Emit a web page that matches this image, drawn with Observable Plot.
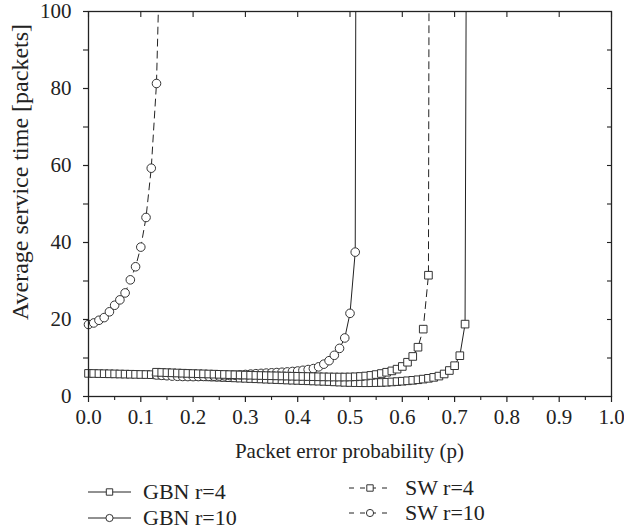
<!DOCTYPE html>
<html><head><meta charset="utf-8">
<script src="https://cdn.jsdelivr.net/npm/d3@7"></script>
<script src="https://cdn.jsdelivr.net/npm/@observablehq/plot@0.6"></script>
<style>
body{margin:0;background:#fff}
#wrap{position:relative;width:624px;height:531px;font-family:"Liberation Serif",serif;background:#fff}
#wrap svg{display:block}
</style>
</head><body><div id="wrap"></div>
<script>
// ---- data ----
const xTickLabels = [0,0.1,0.2,0.3,0.4,0.5,0.6,0.7,0.8,0.9,1.0];
const xMinorTicks = [0.05,0.15,0.25,0.35,0.45,0.55,0.65,0.75,0.85,0.95];
const yTickLabels = [0,20,40,60,80,100];
const yMinorTicks = [10,30,50,70,90];
const yAllTicks = [10,20,30,40,50,60,70,80,90];

const pGBN4 = [0,0.01,0.02,0.03,0.04,0.05,0.06,0.07,0.08,0.09,0.10,0.11,0.12,0.13,0.14,0.15,0.16,0.17,0.18,0.19,0.20,0.21,0.22,0.23,0.24,0.25,0.26,0.27,0.28,0.29,0.30,0.31,0.32,0.33,0.34,0.35,0.36,0.37,0.38,0.39,0.40,0.41,0.42,0.43,0.44,0.45,0.46,0.47,0.48,0.49,0.50,0.51,0.52,0.53,0.54,0.55,0.56,0.57,0.58,0.59,0.60,0.61,0.62,0.63,0.64,0.65,0.66,0.67,0.68,0.69,0.70,0.71,0.72];
const yGBN4 = [6.0,5.98,5.95,5.92,5.9,5.87,5.84,5.81,5.78,5.75,5.72,5.7,5.67,
  5.62,5.57,5.52,5.47,5.42,5.37,5.32,5.26,5.21,5.16,5.1,5.05,5.0,4.94,4.89,4.83,4.78,4.72,4.67,4.61,4.56,4.5,4.45,4.39,4.34,4.28,4.23,4.18,4.13,4.08,4.03,3.98,3.93,3.88,
  3.8,3.74,3.68,3.63,3.6,3.58,3.57,3.58,3.6,3.64,3.7,3.78,3.87,3.97,4.08,4.2,4.35,4.52,4.72,4.97,5.3,5.85,6.75,8.0,10.6,18.8];

const pGBN10 = [0.13,0.14,0.15,0.16,0.17,0.18,0.19,0.20,0.21,0.22,0.23,0.24,0.25,0.26,0.27,0.28,0.29,0.30,0.31,0.32,0.33,0.34,0.35,0.36,0.37,0.38,0.39,0.40,0.41,0.42,0.43,0.44,0.45,0.46,0.47,0.48,0.49,0.50,0.51];
const yGBN10 = [5.6,5.5,5.4,5.3,5.25,5.2,5.18,5.17,5.18,5.2,5.23,5.27,5.32,5.38,5.45,5.53,5.62,5.72,5.82,5.92,6.0,6.08,6.15,6.22,6.3,6.38,6.5,6.62,6.8,7.0,7.25,7.7,8.4,9.3,10.7,12.5,15.2,21.6,37.5];

const pSW4 = [0.13,0.14,0.15,0.16,0.17,0.18,0.19,0.20,0.21,0.22,0.23,0.24,0.25,0.26,0.27,0.28,0.29,0.30,0.31,0.32,0.33,0.34,0.35,0.36,0.37,0.38,0.39,0.40,0.41,0.42,0.43,0.44,0.45,0.46,0.47,0.48,0.49,0.50,0.51,0.52,0.53,0.54,0.55,0.56,0.57,0.58,0.59,0.60,0.61,0.62,0.63,0.64,0.65];
const ySW4 = [6.3,6.25,6.2,6.15,6.1,6.05,6.0,5.96,5.92,5.88,5.84,5.8,5.76,5.72,5.68,5.64,5.6,5.56,5.52,5.48,5.45,5.42,5.39,5.36,5.33,5.3,5.27,5.24,5.21,5.18,5.15,5.12,5.1,5.08,5.06,5.05,5.05,5.07,5.12,5.2,5.32,5.48,5.7,5.97,6.3,6.65,7.1,7.8,8.9,10.4,12.8,17.5,31.5];

const pSW10 = [0,0.01,0.02,0.03,0.04,0.05,0.06,0.07,0.08,0.09,0.10,0.11,0.12,0.13];
const ySW10 = [18.7,19.1,19.8,20.5,22.0,23.7,25.1,26.9,30.3,33.7,38.8,46.5,59.3,81.3];

// where each curve leaves the top of the frame (value 100)
const seriesNames = ["GBN r=4","GBN r=10","SW r=4","SW r=10"];
const seriesP = [pGBN4,pGBN10,pSW4,pSW10];
const seriesY = [yGBN4,yGBN10,ySW4,ySW10];
const asymptoteP = [0.722,0.511,0.651,0.1335];
const seriesDashed = [false,false,true,true];
const seriesSymbol = ["square","circle","square","circle"];

// ---- build tables ----
const series = seriesNames.map((name,k)=>{
  const pts = seriesP[k].map((p,i)=>({p, y: seriesY[k][i]}));
  const line = pts.concat([{p: asymptoteP[k], y: 100}]);
  return {name, pts, line, dashed: seriesDashed[k], symbol: seriesSymbol[k]};
});

const ink = "#222";
const blank = () => "";

const plot = Plot.plot({
  width: 624, height: 465,
  marginLeft: 88, marginRight: 13, marginTop: 11, marginBottom: 69,
  style: {fontFamily: "Liberation Serif, serif", fontSize: "21px", color: ink, background: "#fff"},
  x: {domain: [0,1]},
  y: {domain: [0,100]},
  marks: [
    Plot.axisX({ticks: xTickLabels, tickSize: 6, tickPadding: 7, tickFormat: d => d.toFixed(1), label: null, strokeWidth: 1.2, fontSize: 21}),
    Plot.axisX({ticks: xMinorTicks, tickSize: 4, tickFormat: blank, label: null, strokeWidth: 1.1}),
    Plot.axisX({anchor: "top", ticks: xTickLabels, tickSize: -5, tickFormat: blank, label: null, strokeWidth: 1.1}),
    Plot.axisY({ticks: yTickLabels, tickSize: 5, tickPadding: 12, label: null, strokeWidth: 1.2, fontSize: 21}),
    Plot.axisY({ticks: yMinorTicks, tickSize: 5, tickFormat: blank, label: null, strokeWidth: 1.1}),
    Plot.axisY({anchor: "right", ticks: yAllTicks, tickSize: -5, tickFormat: blank, label: null, strokeWidth: 1.1}),
    ...series.map(s => Plot.line(s.line, {x: "p", y: "y", stroke: ink, strokeWidth: 1, strokeDasharray: s.dashed ? "7,5" : null})),
    ...series.map(s => Plot.dot(s.pts, {x: "p", y: "y", symbol: s.symbol, r: 4.3, fill: "white", stroke: "#333", strokeWidth: 1})),
    Plot.frame({stroke: ink, strokeWidth: 1.3})
  ]
});

const svg = d3.select(plot);
svg.append("text")
  .attr("transform", "translate(28,172) rotate(-90)")
  .attr("text-anchor", "middle")
  .attr("fill", ink)
  .style("font-size", "24px")
  .text("Average service time [packets]");
svg.append("text")
  .attr("x", 349.5).attr("y", 458)
  .attr("text-anchor", "middle")
  .attr("fill", ink)
  .style("font-size", "21px")
  .text("Packet error probability (p)");

document.getElementById("wrap").appendChild(plot);

// ---- legend below the chart ----
const legendItems = [
  {k: 0, x0: 88, x1: 131, mx: 109.5, tx: 143, y: 27},
  {k: 1, x0: 88, x1: 131, mx: 109.5, tx: 143, y: 53},
  {k: 2, x0: 349, x1: 392, mx: 370, tx: 405, y: 23},
  {k: 3, x0: 349, x1: 392, mx: 370, tx: 405, y: 48}
];
const leg = d3.select("#wrap").append("svg").attr("width", 624).attr("height", 66)
  .style("font-family", "Liberation Serif, serif");
legendItems.forEach(it => {
  const s = series[it.k];
  leg.append("line").attr("x1", it.x0).attr("x2", it.x1).attr("y1", it.y).attr("y2", it.y)
    .attr("stroke", ink).attr("stroke-width", 1)
    .attr("stroke-dasharray", s.dashed ? "5,6" : null);
  const sym = d3.symbol().type(s.symbol === "square" ? d3.symbolSquare : d3.symbolCircle).size(Math.PI * 3.6 * 3.6);
  leg.append("path").attr("d", sym()).attr("transform", `translate(${it.mx},${it.y})`)
    .attr("fill", "white").attr("stroke", "#333").attr("stroke-width", 1);
  leg.append("text").attr("x", it.tx).attr("y", it.y + 7).attr("fill", ink)
    .style("font-size", "22px").text(s.name);
});
</script>
</body></html>
